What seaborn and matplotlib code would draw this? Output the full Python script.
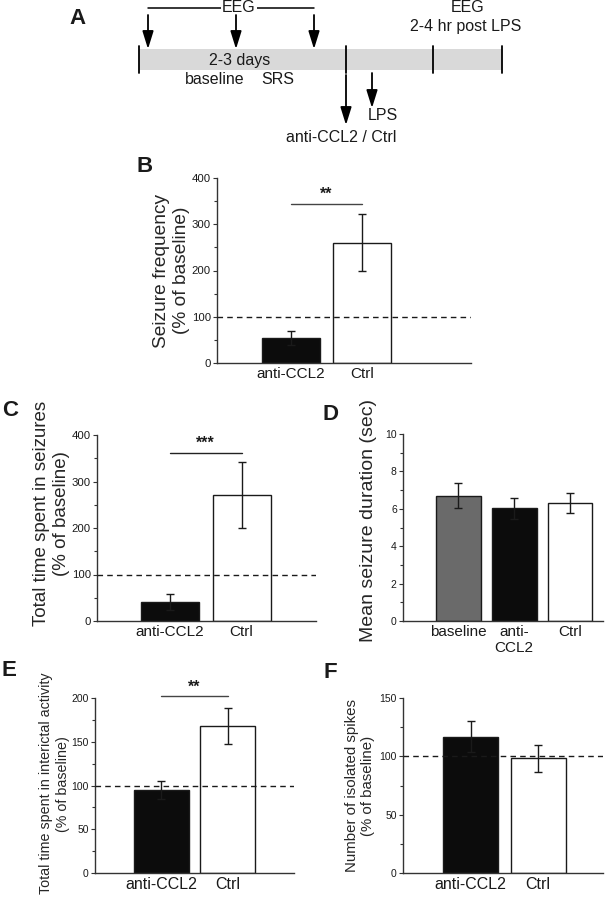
import numpy as np
import pandas as pd
import seaborn as sns
import matplotlib.pyplot as plt
from matplotlib.patches import Rectangle
from matplotlib.ticker import MultipleLocator

# -------------------------- Data --------------------------
groups_2 = ["anti-CCL2", "Ctrl"]
groups_3 = ["baseline", "anti-\nCCL2", "Ctrl"]

freq_mean = [54, 259]          # B: seizure frequency (% of baseline)
freq_err_lo = [15, 60]
freq_err_hi = [15, 63]

time_mean = [41, 271]          # C: total time in seizures (% of baseline)
time_err_lo = [17, 71]
time_err_hi = [17, 71]

dur_mean = [6.71, 6.05, 6.32]  # D: mean seizure duration (sec)
dur_err_lo = [0.66, 0.60, 0.54]
dur_err_hi = [0.68, 0.55, 0.50]

inter_mean = [95, 168]         # E: interictal activity (% of baseline)
inter_err_lo = [10, 20]
inter_err_hi = [10, 21]

spike_mean = [117, 98.5]       # F: isolated spikes (% of baseline)
spike_err_lo = [13.5, 11.7]
spike_err_hi = [13.5, 11.5]

# -------------------------- Style --------------------------
sns.set_theme(style="ticks")
plt.rcParams["font.family"] = ["Liberation Sans", "DejaVu Sans"]
plt.rcParams["text.color"] = "#1a1a1a"

W, H = 606, 899
fig = plt.figure(figsize=(W / 100, H / 100), dpi=100)

BLACK = "#0c0c0c"
GRAY = "#6a6a6a"
EDGE = "#1a1a1a"


def px_axes(x0, x1, y0, y1):
    # axes from pixel box (y measured from the top)
    return fig.add_axes([x0 / W, 1 - y1 / H, (x1 - x0) / W, (y1 - y0) / H])


def bar_panel(ax, cats, means, lo, hi, colors, width, xlim, ylim, major, minor,
              tick_fs, xt_fs, ylabel, ylab_fs, ylab_x, ylab_y=0.5, dashed=True,
              linespacing=1.2):
    df = pd.DataFrame({"group": cats, "value": means})
    sns.barplot(data=df, x="group", y="value", hue="group",
                palette=dict(zip(cats, colors)), width=width, edgecolor=EDGE,
                linewidth=1.0, errorbar=None, legend=False, ax=ax, zorder=2)
    ax.errorbar(np.arange(len(cats)), means, yerr=[lo, hi], fmt="none",
                ecolor=EDGE, elinewidth=1.0, capsize=3.2, capthick=1.0, zorder=3)
    if dashed:
        ax.axhline(100, color=EDGE, lw=1.0, ls=(0, (4, 3)), zorder=4)
    ax.set_xlim(*xlim)
    ax.set_ylim(*ylim)
    ax.yaxis.set_major_locator(MultipleLocator(major))
    ax.yaxis.set_minor_locator(MultipleLocator(minor))
    sns.despine(ax=ax)
    for s in ("left", "bottom"):
        ax.spines[s].set_color("#333333")
        ax.spines[s].set_linewidth(1.0)
    ax.tick_params(axis="y", which="major", length=3, width=0.8, color="#333333",
                   labelsize=tick_fs, pad=1.5, labelcolor="#1a1a1a")
    ax.tick_params(axis="y", which="minor", length=2, width=0.8, color="#333333")
    ax.tick_params(axis="x", length=0, labelsize=xt_fs, pad=3, labelcolor="#1a1a1a")
    ax.set_xlabel("")
    ax.set_ylabel(ylabel, fontsize=ylab_fs, linespacing=linespacing)
    ax.yaxis.set_label_coords(ylab_x, ylab_y)


def sig(ax, y, label, txt_y, color="#444444"):
    ax.plot([0, 1], [y, y], color=color, lw=1.0, zorder=5, clip_on=False)
    ax.text(0.5, txt_y, label, ha="center", va="center", fontsize=11.5,
            fontweight="bold", color="#1a1a1a")


# -------------------------- Panel A: timeline --------------------------
bar_x = (139, 502)
bar_y = (49, 70)
tick_x = [139, 346, 433, 502]
eeg_arrow_x = [148, 236, 314]
axA = fig.add_axes([0, 1 - 150 / H, 1, 150 / H])
axA.set_xlim(0, W)
axA.set_ylim(150, 0)
axA.axis("off")
axA.add_patch(Rectangle((bar_x[0], bar_y[0]), bar_x[1] - bar_x[0], bar_y[1] - bar_y[0],
                        facecolor="#d9d9d9", edgecolor="none"))
for x in tick_x:
    axA.plot([x, x], [46, 73], color="black", lw=1.3)
axA.plot([eeg_arrow_x[0], eeg_arrow_x[-1]], [8, 8], color="black", lw=1.1)
axA.text(239, 8, "EEG", ha="center", va="center", fontsize=11.5,
         bbox=dict(facecolor="white", edgecolor="none", pad=1.0))
arrow = dict(arrowstyle="-|>,head_length=0.9,head_width=0.28", color="black",
             lw=1.3, shrinkA=0, shrinkB=0)
for x in eeg_arrow_x:
    axA.annotate("", xy=(x, 49), xytext=(x, 15), arrowprops=arrow)
axA.annotate("", xy=(346, 125), xytext=(346, 75), arrowprops=arrow)
axA.annotate("", xy=(372, 108), xytext=(372, 73), arrowprops=arrow)
axA.text(240, 60, "2-3 days", ha="center", va="center", fontsize=11.5)
axA.text(215, 80, "baseline", ha="center", va="center", fontsize=11.5)
axA.text(278, 80, "SRS", ha="center", va="center", fontsize=11.5)
axA.text(383, 115, "LPS", ha="center", va="center", fontsize=11.5)
axA.text(341, 137, "anti-CCL2 / Ctrl", ha="center", va="center", fontsize=11.5)
axA.text(468, 8, "EEG", ha="center", va="center", fontsize=11.5)
axA.text(466, 27, "2-4 hr post LPS", ha="center", va="center", fontsize=11.5)

# -------------------------- Panel B --------------------------
axB = px_axes(217, 471, 178, 363)
bar_panel(axB, groups_2, freq_mean, freq_err_lo, freq_err_hi, [BLACK, "white"], 0.81,
          (-1.03, 2.52), (0, 400), 100, 50, 8.2, 11,
          "Seizure frequency\n(% of baseline)", 13.8, -0.107)
sig(axB, 344, "**", 364)

# -------------------------- Panel C --------------------------
axC = px_axes(97, 316, 435, 621)
bar_panel(axC, groups_2, time_mean, time_err_lo, time_err_hi, [BLACK, "white"], 0.81,
          (-1.02, 2.04), (0, 400), 100, 50, 8.2, 11,
          "Total time spent in seizures\n(% of baseline)", 13.5, -0.123, 0.58)
sig(axC, 361, "***", 383, color="#222222")

# -------------------------- Panel D --------------------------
axD = px_axes(403, 603, 434, 621)
bar_panel(axD, groups_3, dur_mean, dur_err_lo, dur_err_hi, [GRAY, BLACK, "white"], 0.80,
          (-0.99, 2.59), (0, 10), 2, 1, 7.5, 11,
          "Mean seizure duration (sec)", 14, -0.13, 0.54, dashed=False)

# -------------------------- Panel E --------------------------
axE = px_axes(95, 294, 698, 873)
bar_panel(axE, groups_2, inter_mean, inter_err_lo, inter_err_hi, [BLACK, "white"], 0.83,
          (-1.0, 2.0), (0, 200), 50, 25, 7.5, 11.5,
          "Total time spent in interictal activity\n(% of baseline)", 10.3, -0.126,
          0.51, linespacing=1.3)
sig(axE, 202, "**", 212)

# -------------------------- Panel F --------------------------
axF = px_axes(403, 603, 698, 873)
bar_panel(axF, groups_2, spike_mean, spike_err_lo, spike_err_hi, [BLACK, "white"], 0.81,
          (-1.0, 1.96), (0, 150), 50, 25, 7.5, 11.5,
          "Number of isolated spikes\n(% of baseline)", 10.8, -0.14)

# -------------------------- Panel letters --------------------------
for letter, (x, y) in {"A": (78, 18), "B": (145, 166), "C": (10, 410),
                       "D": (330, 414), "E": (9, 671), "F": (330, 673)}.items():
    fig.text(x / W, 1 - y / H, letter, fontsize=16, fontweight="bold",
             ha="center", va="center")

fig.savefig("out.png", dpi=100)
